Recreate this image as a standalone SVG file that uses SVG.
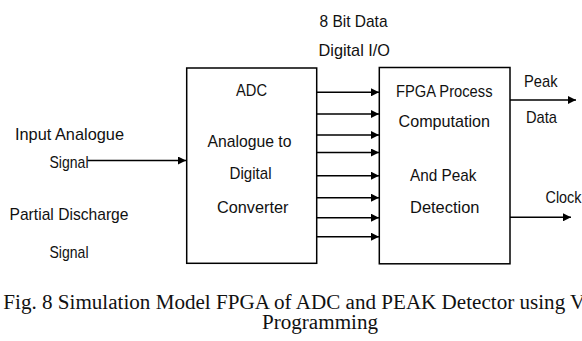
<svg xmlns="http://www.w3.org/2000/svg" width="582" height="341" viewBox="0 0 582 341">
  <style>
    .box { fill: #ffffff; stroke: #000000; stroke-width: 1.5; }
    .wire { fill: none; stroke: #000000; stroke-width: 1.4; }
    .lbl { font-family: "Liberation Sans", Arial, sans-serif; font-size: 17px; fill: #111111; }
    .cap { font-family: "Liberation Serif", "Times New Roman", serif; font-size: 21.1px; fill: #111111; }
  </style>
  <defs>
    <marker id="head" viewBox="0 0 8 8" markerWidth="8" markerHeight="8" refX="8" refY="4" orient="auto" markerUnits="userSpaceOnUse">
      <path d="M0,0 L8,4 L0,8 z" fill="#000000"/>
    </marker>
  </defs>
  <rect width="582" height="341" fill="#ffffff"/>

  <!-- ADC block -->
  <g id="adc">
    <rect class="box" x="186.7" y="68" width="130" height="195.3"/>
    <text class="lbl" x="236" y="96" textLength="31" lengthAdjust="spacingAndGlyphs">ADC</text>
    <text class="lbl" x="207.5" y="146.5" textLength="84" lengthAdjust="spacingAndGlyphs">Analogue to</text>
    <text class="lbl" x="229.5" y="179" textLength="42" lengthAdjust="spacingAndGlyphs">Digital</text>
    <text class="lbl" x="217" y="212.5" textLength="71.5" lengthAdjust="spacingAndGlyphs">Converter</text>
  </g>

  <!-- FPGA block -->
  <g id="fpga">
    <rect class="box" x="379.3" y="67.5" width="130.7" height="196.3"/>
    <text class="lbl" x="396" y="97" textLength="96.5" lengthAdjust="spacingAndGlyphs">FPGA Process</text>
    <text class="lbl" x="398.5" y="126.5" textLength="91.5" lengthAdjust="spacingAndGlyphs">Computation</text>
    <text class="lbl" x="410" y="180.5" textLength="66.5" lengthAdjust="spacingAndGlyphs">And Peak</text>
    <text class="lbl" x="410" y="213" textLength="69.5" lengthAdjust="spacingAndGlyphs">Detection</text>
  </g>

  <!-- input signal labels -->
  <g id="input">
    <text class="lbl" x="15" y="140" textLength="109" lengthAdjust="spacingAndGlyphs">Input Analogue</text>
    <text class="lbl" x="49.5" y="168" textLength="39" lengthAdjust="spacingAndGlyphs">Signal</text>
  </g>
  <g id="pd">
    <text class="lbl" x="9.5" y="220" textLength="119" lengthAdjust="spacingAndGlyphs">Partial Discharge</text>
    <text class="lbl" x="49.5" y="258" textLength="39" lengthAdjust="spacingAndGlyphs">Signal</text>
  </g>

  <!-- bus labels -->
  <g id="bus">
    <text class="lbl" x="319.5" y="26.5" textLength="68" lengthAdjust="spacingAndGlyphs">8 Bit Data</text>
    <text class="lbl" x="318.5" y="56" textLength="71.5" lengthAdjust="spacingAndGlyphs">Digital I/O</text>
  </g>

  <!-- output labels -->
  <g id="outputs">
    <text class="lbl" x="524" y="87" textLength="33.5" lengthAdjust="spacingAndGlyphs">Peak</text>
    <text class="lbl" x="526" y="123" textLength="31" lengthAdjust="spacingAndGlyphs">Data</text>
    <text class="lbl" x="545.5" y="203" textLength="36" lengthAdjust="spacingAndGlyphs">Clock</text>
  </g>

  <!-- connectors -->
  <g id="connectors">
    <line class="wire" x1="87.5" y1="160.5" x2="186" y2="160.5" marker-end="url(#head)"/>
    <line class="wire" x1="316.7" y1="92.3" x2="379" y2="92.3" marker-end="url(#head)"/>
    <line class="wire" x1="316.7" y1="114" x2="379" y2="114" marker-end="url(#head)"/>
    <line class="wire" x1="316.7" y1="135" x2="379" y2="135" marker-end="url(#head)"/>
    <line class="wire" x1="316.7" y1="152.5" x2="379" y2="152.5" marker-end="url(#head)"/>
    <line class="wire" x1="316.7" y1="175.7" x2="379" y2="175.7" marker-end="url(#head)"/>
    <line class="wire" x1="316.7" y1="197.7" x2="379" y2="197.7" marker-end="url(#head)"/>
    <line class="wire" x1="316.7" y1="217.7" x2="379" y2="217.7" marker-end="url(#head)"/>
    <line class="wire" x1="316.7" y1="236.7" x2="379" y2="236.7" marker-end="url(#head)"/>
    <line class="wire" x1="510" y1="100" x2="576" y2="100" marker-end="url(#head)"/>
    <line class="wire" x1="510" y1="217.3" x2="571" y2="217.3" marker-end="url(#head)"/>
  </g>

  <!-- caption -->
  <text class="cap" x="3.3" y="309">Fig. 8 Simulation Model FPGA of ADC and PEAK Detector using V</text>
  <text class="cap" x="262" y="329" textLength="116" lengthAdjust="spacingAndGlyphs">Programming</text>
</svg>
